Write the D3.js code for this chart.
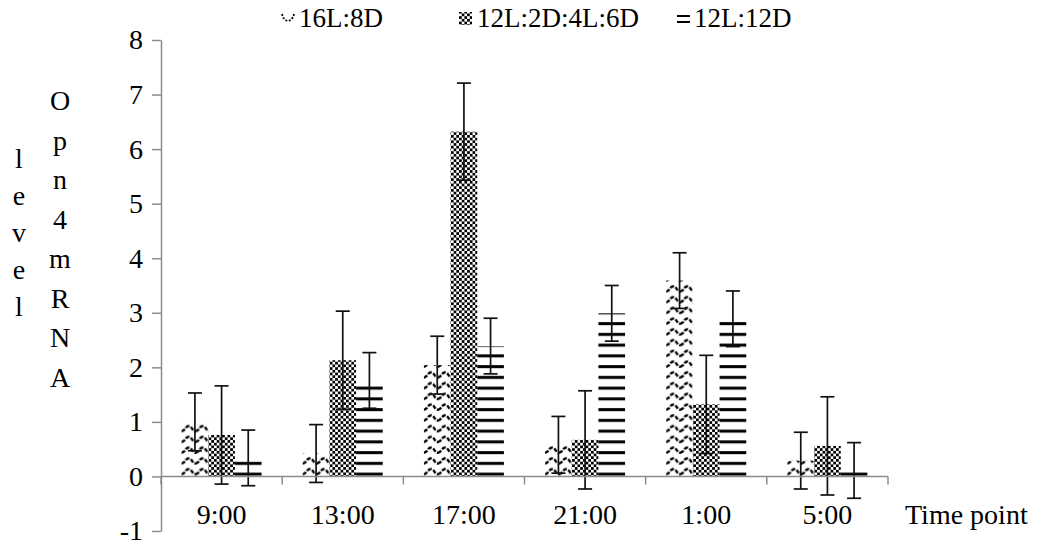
<!DOCTYPE html>
<meta charset="utf-8">
<script src="https://cdn.jsdelivr.net/npm/d3@7"></script>
<style>
body {margin: 0; background: #fff;}
text {font-family: "Liberation Serif", "Times New Roman", serif; fill: #000;}
</style>
<div id="vis"></div>
<script>
// data
var times = ["9:00", "13:00", "17:00", "21:00", "1:00", "5:00"];
var seriesNames = ["16L:8D", "12L:2D:4L:6D", "12L:12D"];
var s16L8D = [1.00, 0.42, 2.04, 0.58, 3.59, 0.29];
var s12L2D4L6D = [0.76, 2.13, 6.32, 0.67, 1.32, 0.56];
var s12L12D = [0.34, 1.76, 2.39, 2.99, 2.89, 0.11];
var err16L8D = [0.53, 0.53, 0.53, 0.52, 0.51, 0.52];
var err12L2D4L6D = [0.90, 0.90, 0.89, 0.90, 0.90, 0.90];
var err12L12D = [0.51, 0.51, 0.51, 0.51, 0.51, 0.51];
var yTicks = [-1, 0, 1, 2, 3, 4, 5, 6, 7, 8];
var yTitleA = "Opn4mRNA";
var yTitleB = "level";

var width = 1043,
    height = 542,
    fs = 28;

var svg = d3.select("#vis").append("svg")
    .attr("width", width)
    .attr("height", height);

var x0 = d3.scaleBand().domain(times).range([161, 888])
    .paddingInner(0.34).paddingOuter(0.17);
var x1 = d3.scaleBand().domain(seriesNames).range([0, x0.bandwidth()]);
var y = d3.scaleLinear().domain([-1, 8]).range([531, 40]);

var values = [s16L8D, s12L2D4L6D, s12L12D];
var errors = [err16L8D, err12L2D4L6D, err12L12D];

// patterns
var defs = svg.append("defs");
var rowH = 10.75;

var wave = defs.append("pattern").attr("id", "p0")
    .attr("patternUnits", "userSpaceOnUse")
    .attr("x", 0).attr("y", y(0))
    .attr("width", 14).attr("height", rowH);
wave.append("path")
    .attr("d", "M0,8.5 C3.5,8.5 3.5,3.5 7,3.5 C10.5,3.5 10.5,8.5 14,8.5")
    .attr("fill", "none").attr("stroke", "#000")
    .attr("stroke-width", 2.4).attr("stroke-dasharray", "4,1.6");

var check = defs.append("pattern").attr("id", "p1")
    .attr("patternUnits", "userSpaceOnUse")
    .attr("x", 0).attr("y", 0)
    .attr("width", 5.4).attr("height", 5.4);
check.append("rect").attr("width", 5.4).attr("height", 5.4).attr("fill", "#fff");
check.append("rect").attr("width", 2.7).attr("height", 2.7).attr("fill", "#000");
check.append("rect").attr("x", 2.7).attr("y", 2.7).attr("width", 2.7).attr("height", 2.7).attr("fill", "#000");

var stripe = defs.append("pattern").attr("id", "p2")
    .attr("patternUnits", "userSpaceOnUse")
    .attr("x", 0).attr("y", y(0))
    .attr("width", 20).attr("height", rowH);
stripe.append("rect").attr("y", rowH - 3.8).attr("width", 20).attr("height", 3).attr("fill", "#000");

// bars
var groups = svg.selectAll("g.grp")
    .data(times)
  .enter().append("g")
    .attr("class", "grp")
    .attr("transform", function(d) { return "translate(" + x0(d) + ",0)"; });

groups.selectAll("rect")
    .data(function(d, i) {
      return seriesNames.map(function(s, j) { return {s: s, j: j, v: values[j][i], e: errors[j][i]}; });
    })
  .enter().append("rect")
    .attr("x", function(d) { return x1(d.s); })
    .attr("y", function(d) { return y(d.v); })
    .attr("width", x1.bandwidth())
    .attr("height", function(d) { return y(0) - y(d.v); })
    .attr("fill", function(d) { return "url(#p" + d.j + ")"; });

// axes
var axisColor = "#8c8c8c";

var yAxis = svg.append("g")
    .attr("transform", "translate(161,0)")
    .call(d3.axisLeft(y).tickValues(yTicks).tickSize(9).tickSizeOuter(0).tickPadding(9)
      .tickFormat(function(d) { return d < 0 ? "-" + Math.abs(d) : d; }));
yAxis.select(".domain").attr("stroke", axisColor).attr("stroke-width", 1.5);
yAxis.selectAll(".tick line").attr("stroke", axisColor).attr("stroke-width", 1.5);
yAxis.selectAll(".tick text")
    .attr("font-family", "Liberation Serif").attr("font-size", fs).attr("fill", "#000");

var xAxis = svg.append("g")
    .attr("transform", "translate(0," + y(0) + ")");
xAxis.append("line").attr("x1", 161).attr("x2", 888)
    .attr("stroke", axisColor).attr("stroke-width", 1.5);
var bounds = times.map(function(d) { return x0(d) - x0.step() * x0.paddingInner() / 2; }).concat([888]);
xAxis.selectAll("line.tk")
    .data(bounds)
  .enter().append("line")
    .attr("class", "tk")
    .attr("x1", function(d) { return d; }).attr("x2", function(d) { return d; })
    .attr("y1", 0).attr("y2", 8)
    .attr("stroke", axisColor).attr("stroke-width", 1.5);

// error bars
var eb = groups.selectAll("g.eb")
    .data(function(d, i) {
      return seriesNames.map(function(s, j) { return {s: s, v: values[j][i], e: errors[j][i]}; });
    })
  .enter().append("g")
    .attr("class", "eb")
    .attr("stroke", "#111").attr("stroke-width", 1.7);
eb.append("line")
    .attr("x1", function(d) { return x1(d.s) + x1.bandwidth() / 2; })
    .attr("x2", function(d) { return x1(d.s) + x1.bandwidth() / 2; })
    .attr("y1", function(d) { return y(d.v + d.e); })
    .attr("y2", function(d) { return y(d.v - d.e); });
[1, -1].forEach(function(sign) {
  eb.append("line")
      .attr("x1", function(d) { return x1(d.s) + x1.bandwidth() / 2 - 7; })
      .attr("x2", function(d) { return x1(d.s) + x1.bandwidth() / 2 + 7; })
      .attr("y1", function(d) { return y(d.v + sign * d.e); })
      .attr("y2", function(d) { return y(d.v + sign * d.e); });
});

// category labels
svg.selectAll("text.cat")
    .data(times)
  .enter().append("text")
    .attr("class", "cat")
    .attr("x", function(d) { return x0(d) + x0.bandwidth() / 2; })
    .attr("y", 524)
    .attr("text-anchor", "middle")
    .attr("font-size", fs)
    .text(function(d) { return d; });

svg.append("text")
    .attr("x", 905).attr("y", 524)
    .attr("font-size", fs)
    .text("Time point");

// y title, stacked letters
svg.selectAll("text.ya")
    .data(yTitleA.split(""))
  .enter().append("text")
    .attr("class", "ya")
    .attr("x", 60).attr("y", function(d, i) { return 110 + i * 39.5; })
    .attr("text-anchor", "middle").attr("font-size", fs)
    .text(function(d) { return d; });
svg.selectAll("text.yb")
    .data(yTitleB.split(""))
  .enter().append("text")
    .attr("class", "yb")
    .attr("x", 19).attr("y", function(d, i) { return 168 + i * 37; })
    .attr("text-anchor", "middle").attr("font-size", fs)
    .text(function(d) { return d; });

// legend
var legX = [281, 459, 676];
var leg = svg.selectAll("g.leg")
    .data(seriesNames)
  .enter().append("g")
    .attr("class", "leg")
    .attr("transform", function(d, i) { return "translate(" + legX[i] + ",0)"; });
leg.append("text")
    .attr("x", 18)
    .attr("y", 27)
    .attr("font-size", 27)
    .text(function(d) { return d; });
leg.filter(function(d, i) { return i === 0; }).append("path")
    .attr("d", "M1,14 C3,23 11,23 13,14")
    .attr("fill", "none").attr("stroke", "#000").attr("stroke-width", 1.8)
    .attr("stroke-dasharray", "2,1.5");
leg.filter(function(d, i) { return i === 1; }).append("rect")
    .attr("x", 0).attr("y", 12).attr("width", 13).attr("height", 13)
    .attr("fill", "url(#p1)");
leg.filter(function(d, i) { return i === 2; }).selectAll("rect")
    .data([15, 21])
  .enter().append("rect")
    .attr("x", 1).attr("y", function(d) { return d; })
    .attr("width", 13).attr("height", 2).attr("fill", "#000");
</script>
